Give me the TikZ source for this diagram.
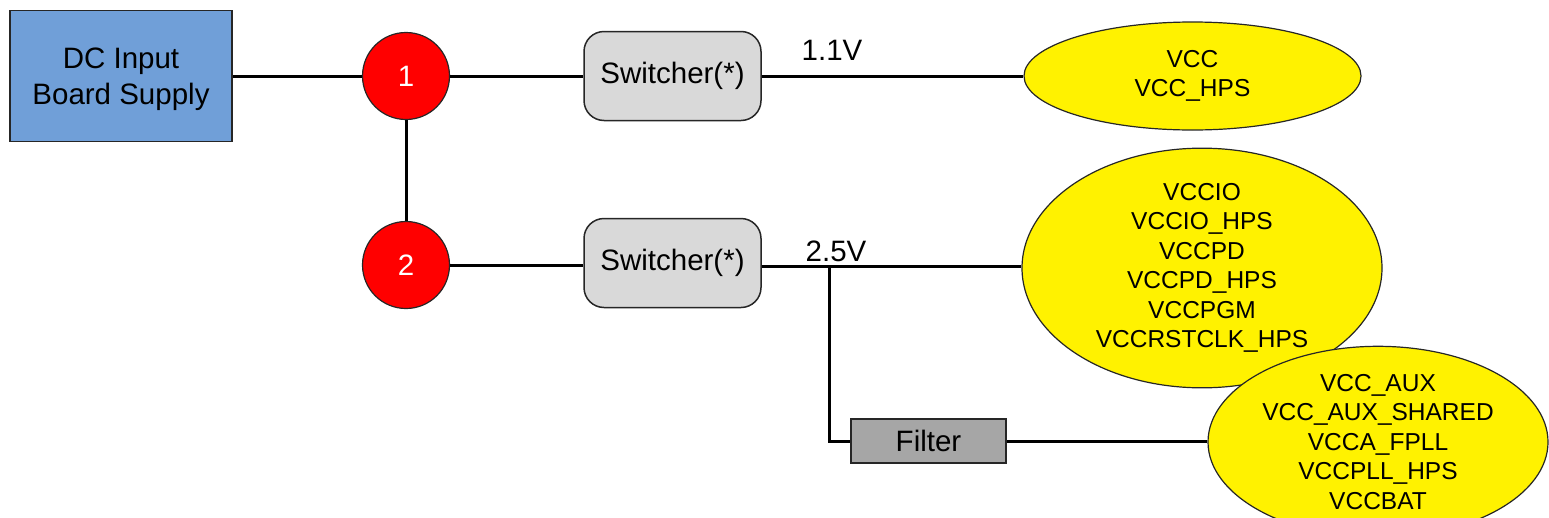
\documentclass[tikz,border=0pt]{standalone}
\usepackage{fontspec}
\setmainfont{Liberation Sans}
\usetikzlibrary{shapes.geometric}
\definecolor{boxblue}{RGB}{112,159,216}
\definecolor{swgrey}{RGB}{217,217,217}
\definecolor{filtgrey}{RGB}{166,166,166}
\tikzset{
  wire/.style={line width=3pt,black},
  bigtxt/.style={font=\fontsize{29.5}{36}\selectfont},
  smalltxt/.style={font=\fontsize{24.5}{29.5}\selectfont},
  supplybox/.style={draw=black!85,line width=1.5pt,fill=boxblue,minimum width=222pt,minimum height=131pt,inner sep=0pt},
  railnode/.style={circle,draw=black!85,line width=1.2pt,fill=red,minimum size=87pt,inner sep=0pt,text=white,bigtxt},
  switchbox/.style={draw=black!85,line width=1.5pt,fill=swgrey,rounded corners=20pt,minimum width=177pt,minimum height=89pt,inner sep=0pt,bigtxt},
  filterbox/.style={draw=black!85,line width=1.5pt,fill=filtgrey,minimum width=155pt,minimum height=44pt,inner sep=0pt,bigtxt},
  loadell/.style={ellipse,draw=black!85,line width=1.2pt,fill=yellow,inner sep=0pt,align=center,smalltxt},
  vlabel/.style={bigtxt,inner sep=0pt}
}
\begin{document}
\begin{tikzpicture}[x=1pt,y=-1pt]
\useasboundingbox (0,0) rectangle (1549,517);
\node[supplybox] (dc) at (121,76) {};
\node[bigtxt,align=center,inner sep=0pt] (dct) at ([yshift=-3pt]dc.center) {DC Input\\Board Supply};
\node[railnode] (c1) at (406,76) {1};
\node[railnode] (c2) at (406,265) {2};
\node[switchbox] (sw1) at (672.5,76) {Switcher(*)};
\node[switchbox] (sw2) at (672.5,263) {Switcher(*)};
\node[loadell,minimum width=337pt,minimum height=108pt] (e1) at (1192.5,76) {VCC\\VCC\_HPS};
\node[loadell,minimum width=360pt,minimum height=208pt] (e2) at (1202,268) {VCCIO\\VCCIO\_HPS\\VCCPD\\VCCPD\_HPS\\VCCPGM\\VCCRSTCLK\_HPS};
\node[loadell,minimum width=340pt,minimum height=148pt] (e3) at (1378,442) {VCC\_AUX\\VCC\_AUX\_SHARED\\VCCA\_FPLL\\VCCPLL\_HPS\\VCCBAT};
\node[filterbox] (flt) at (928.5,441) {Filter};
\node[vlabel] (l1) at (832,50) {1.1V};
\node[vlabel] (l2) at (836,251) {2.5V};
\coordinate (j) at (829,266);
\draw[wire] (dc.east) -- (c1.west);
\draw[wire] (c1.east) -- (sw1.west);
\draw[wire] (c1.south) -- (c2.north);
\draw[wire] (c2.east) -- (c2.east -| sw2.west);
\draw[wire] (sw1.east) -- (sw1.east -| e1.west);
\draw[wire] (sw2.east |- j) -- (j -| e2.west);
\draw[wire] (j) |- (flt.west);
\draw[wire] (flt.east) -- (flt.east -| e3.west);
\end{tikzpicture}
\end{document}
